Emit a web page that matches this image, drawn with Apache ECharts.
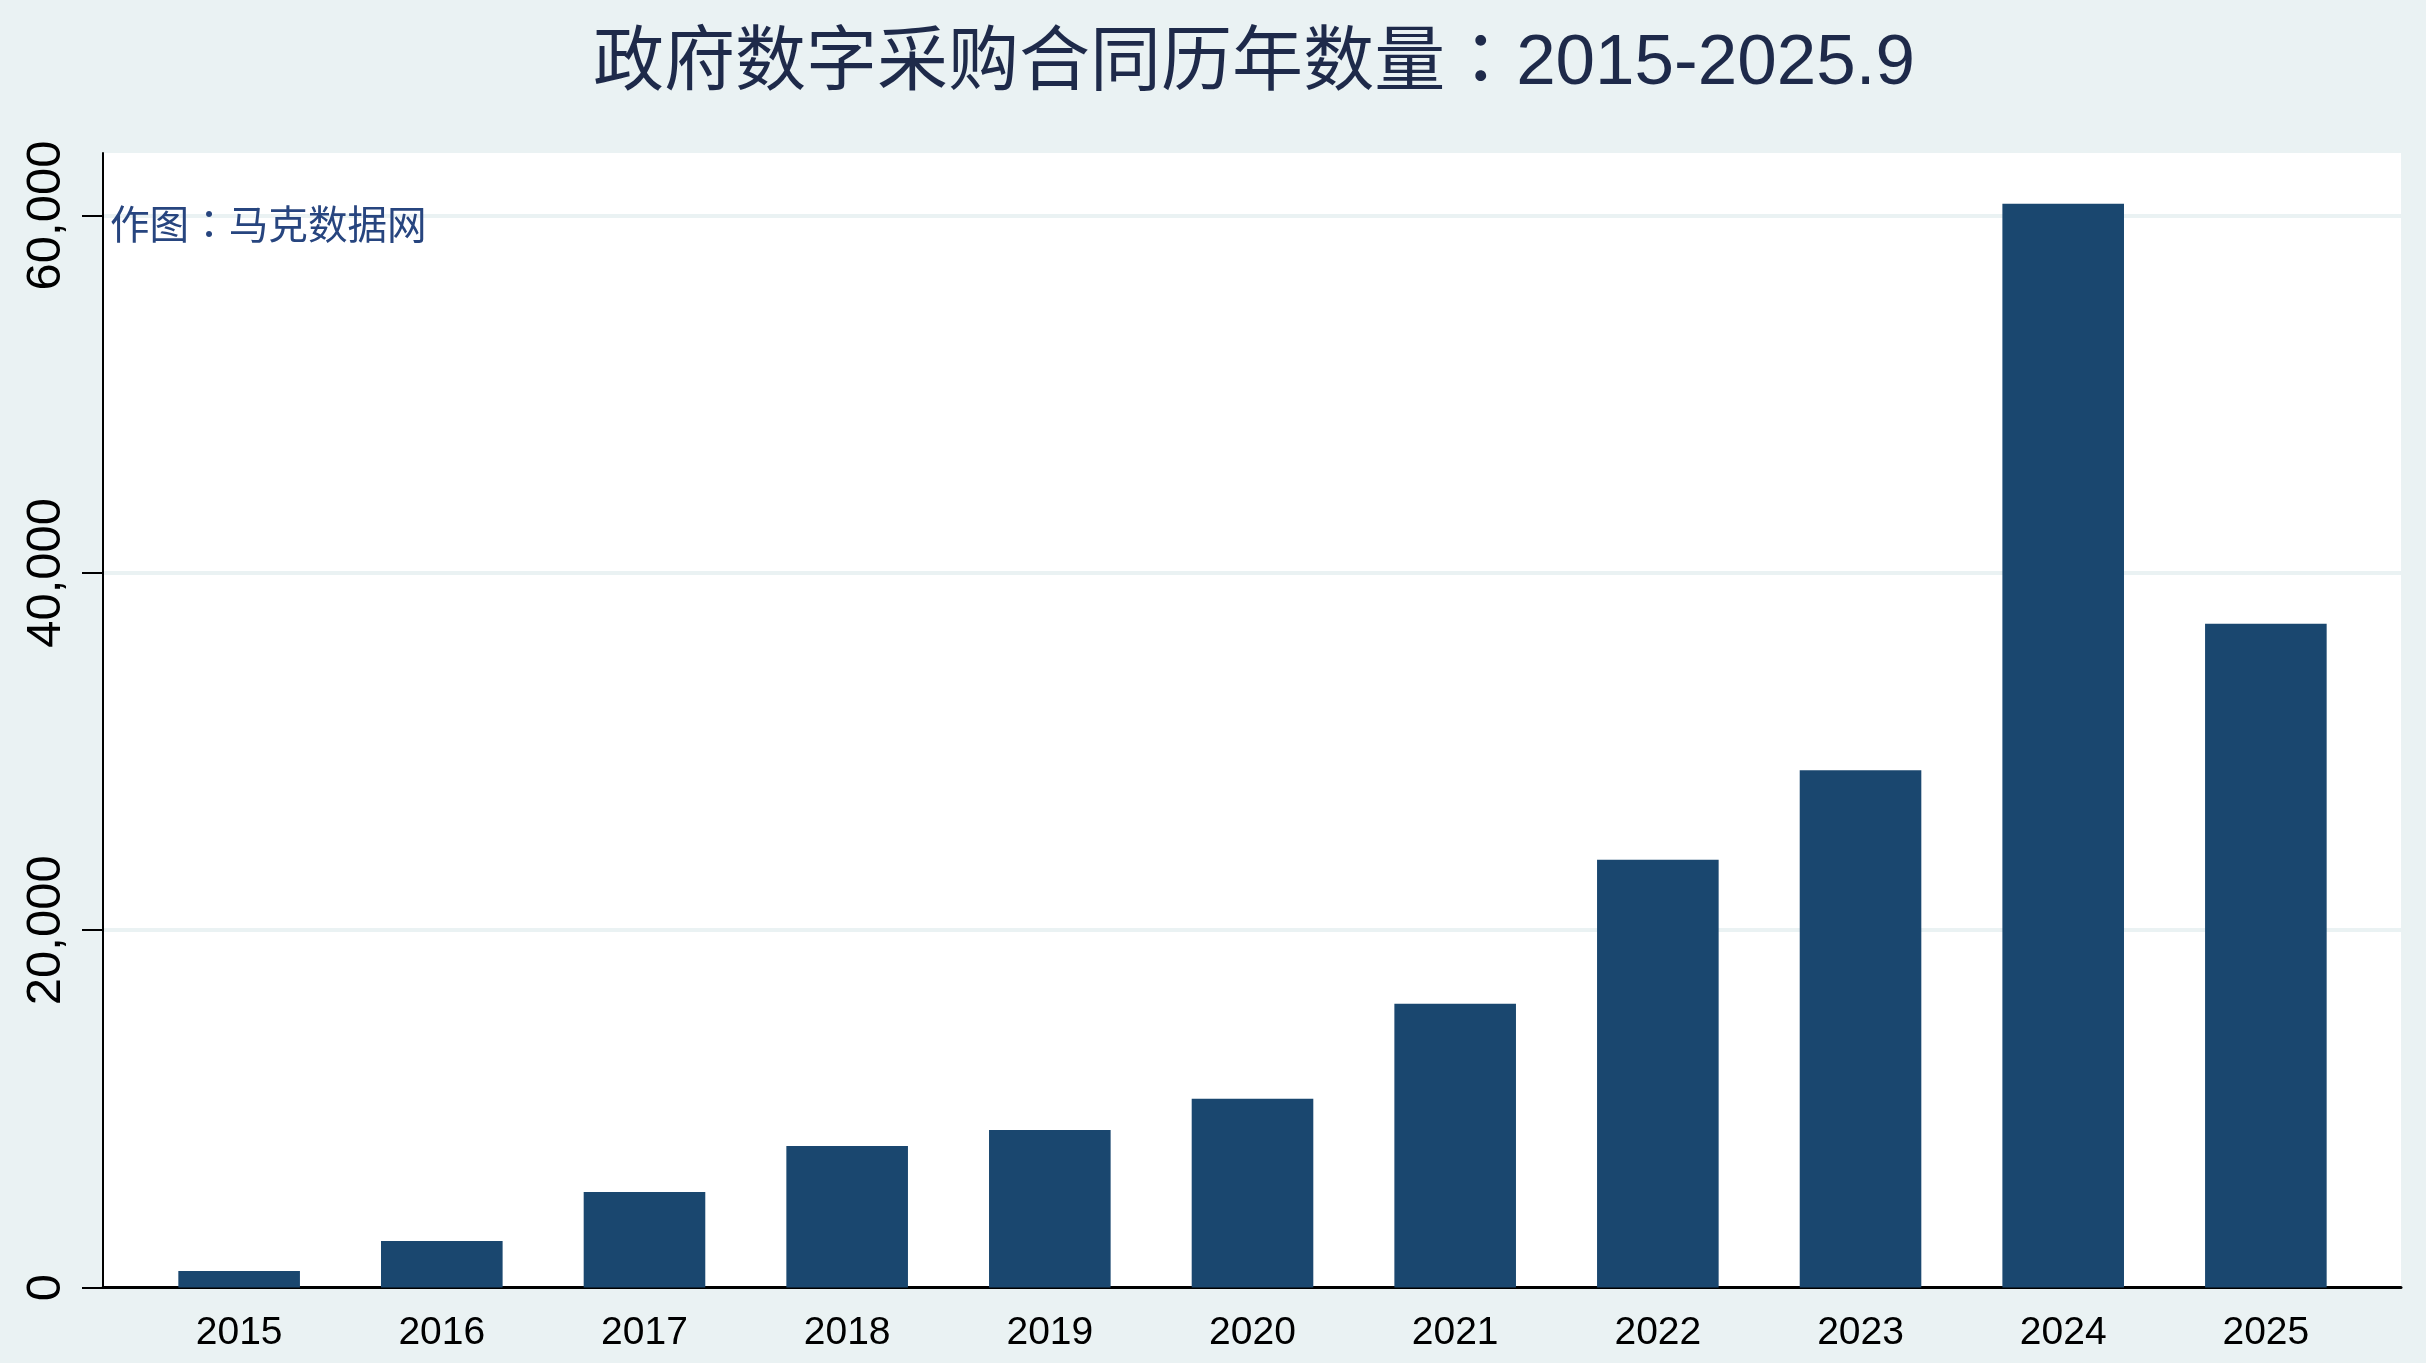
<!DOCTYPE html>
<html>
<head>
<meta charset="utf-8">
<script src="https://cdn.jsdelivr.net/npm/echarts@6/dist/echarts.min.js"></script>
<style>
html,body{margin:0;padding:0;background:#EAF2F3;}
#c{width:2426px;height:1363px;}
</style>
</head>
<body>
<div id="c"></div>
<script>
const chartTitle = '政府数字采购合同历年数量：2015-2025.9';
const creditText = '作图：马克数据网';
const years = ['2015','2016','2017','2018','2019','2020','2021','2022','2023','2024','2025'];
const contracts = [930, 2610, 5350, 7930, 8820, 10570, 15880, 23940, 28960, 60660, 37150];
const yTicks = [0, 20000, 40000, 60000];
const yMax = 63500;

const latin = "'Liberation Sans', Arial, 'Noto Sans CJK TC', sans-serif";
const cjk = "'Noto Sans CJK TC', 'Noto Sans CJK SC', sans-serif";
const fmt = v => String(Math.round(v)).replace(/\B(?=(\d{3})+(?!\d))/g, ',');

const chart = echarts.init(document.getElementById('c'));
chart.setOption({
  animation: false,
  backgroundColor: '#EAF2F3',
  title: {
    text: chartTitle,
    left: 1254,
    top: 29,
    padding: 0,
    textAlign: 'center',
    textStyle: { fontSize: 71, fontWeight: 'normal', color: '#1E2A4A', fontFamily: latin }
  },
  graphic: [{
    type: 'text',
    x: 110,
    y: 204,
    z: 10,
    style: { text: creditText, fontSize: 39.6, fill: '#27457F', fontFamily: cjk, textVerticalAlign: 'top' }
  }],
  grid: [
    { left: 103, right: 25, top: 153, bottom: 75.4, show: true, backgroundColor: '#ffffff', borderWidth: 0 },
    { left: 137.8, right: 58.8, top: 153, bottom: 75.4 }
  ],
  xAxis: [
    { gridIndex: 0, type: 'value', min: 0, max: 1,
      axisLine: { show: true, onZero: false, lineStyle: { color: '#000', width: 3 } },
      axisTick: { show: false }, axisLabel: { show: false }, splitLine: { show: false } },
    { gridIndex: 1, type: 'category', data: years,
      axisLine: { show: false }, axisTick: { show: false },
      axisLabel: { fontSize: 39, margin: 26, color: '#000', fontFamily: latin } }
  ],
  yAxis: [
    { gridIndex: 0, type: 'value', min: 0, max: yMax,
      axisLine: { show: true, lineStyle: { color: '#000', width: 2 } },
      axisTick: { show: true, length: 21, customValues: yTicks, lineStyle: { color: '#000', width: 2 } },
      axisLabel: { rotate: 90, margin: 32, fontSize: 49, color: '#000', fontFamily: latin, customValues: yTicks, formatter: fmt },
      splitLine: { show: true, lineStyle: { color: '#EAF2F3', width: 4 } } },
    { gridIndex: 1, type: 'value', min: 0, max: yMax, show: false }
  ],
  series: [{
    type: 'bar',
    xAxisIndex: 1,
    yAxisIndex: 1,
    data: contracts,
    barWidth: '60%',
    itemStyle: { color: '#1A476F' }
  }]
});
</script>
</body>
</html>
